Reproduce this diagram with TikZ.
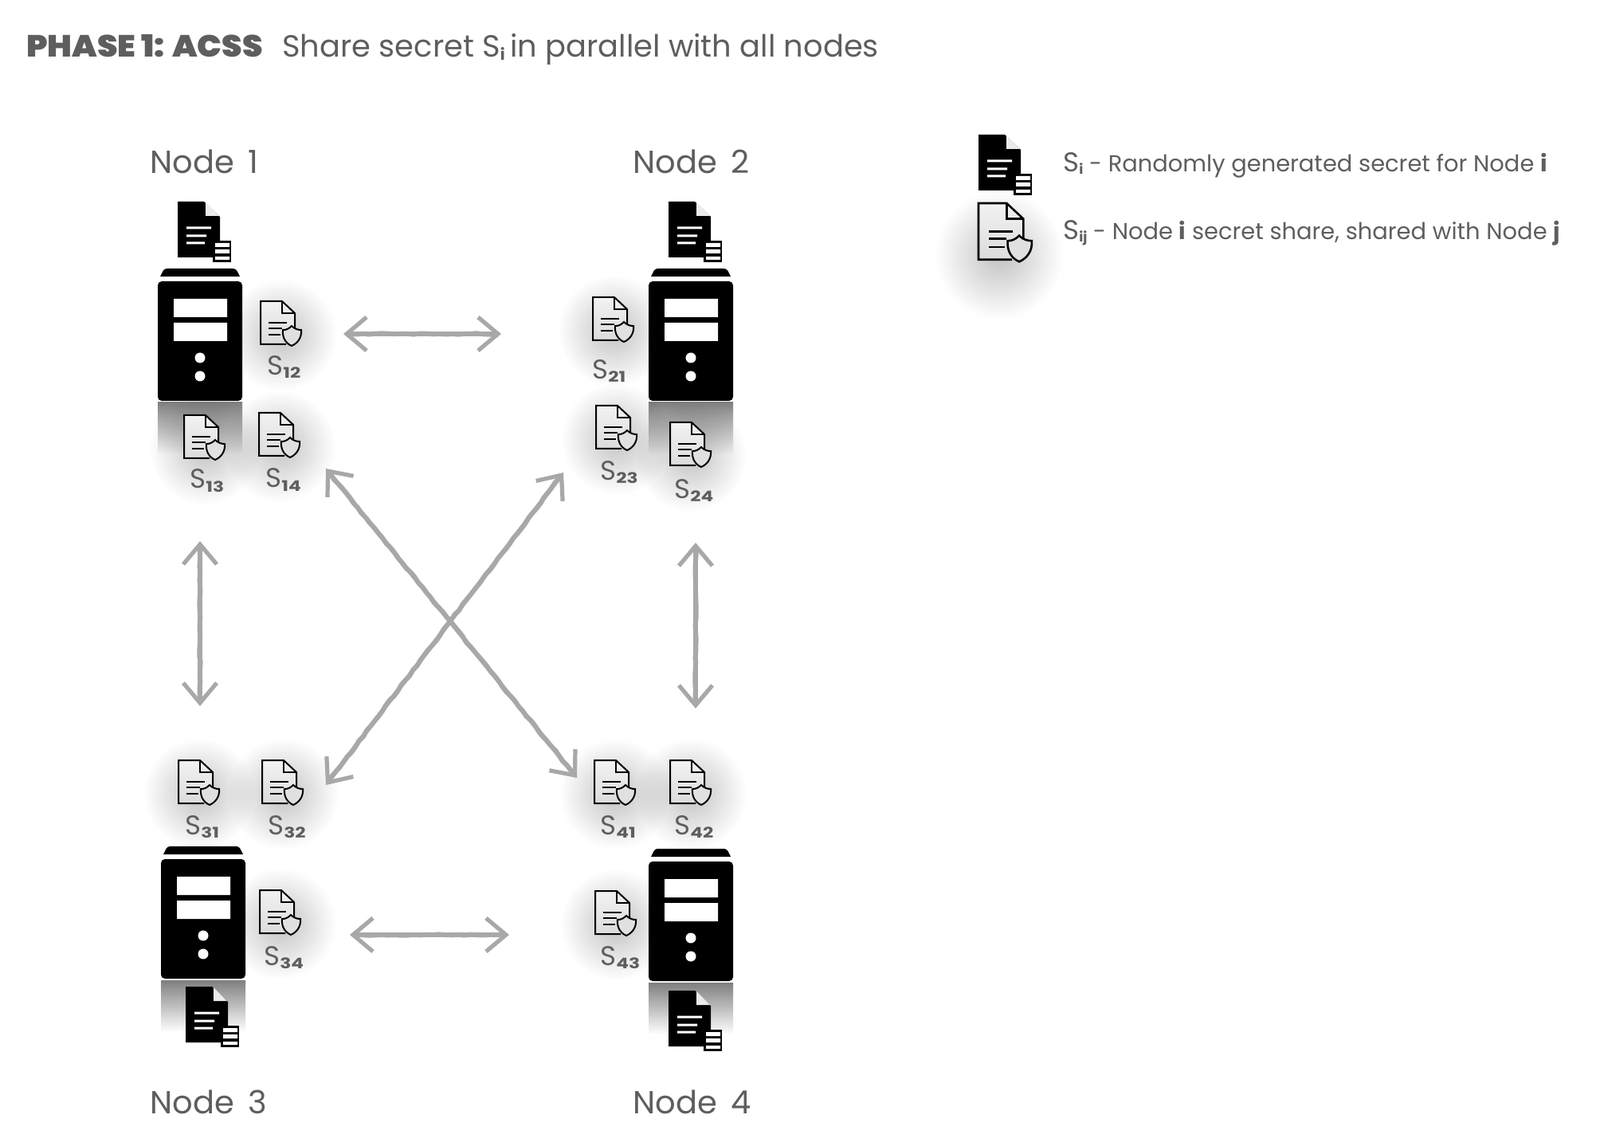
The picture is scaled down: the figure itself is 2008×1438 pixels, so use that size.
\documentclass[tikz,border=0pt]{standalone}
\usepackage{fontspec}
\setmainfont{Poppins}
\newfontfamily\heavy{Poppins Black}
\usetikzlibrary{arrows.meta,fadings,decorations.pathmorphing}
\definecolor{txt}{HTML}{5E5E5E}
\definecolor{arrowgray}{HTML}{A8A8A8}
\tikzfading[name=halofade,inner color=transparent!76,outer color=transparent!100]
\newcommand{\sublab}[1]{\raisebox{-2pt}{\scalebox{1.26}[1]{\bfseries\fontsize{9.2}{10}\selectfont #1}}}
\newcommand{\lsub}[1]{\raisebox{-1.5pt}{\bfseries\fontsize{8.6}{9}\selectfont #1}}
\tikzset{
  plain text/.style={anchor=base west,inner sep=0pt,text=txt,font=\fontsize{14.45}{16}\selectfont},
  node title/.style={plain text,font=\fontsize{20}{22}\selectfont},
  head text/.style={plain text,font=\fontsize{19.2}{22}\selectfont},
  share text/.style={plain text,font=\fontsize{17}{20}\selectfont},
  halo/.style={black,path fading=halofade},
  shareline/.style={line width=1pt,black},
  sharedoc/.pic={
    \fill[top color=white!95!black,bottom color=white!86!black] (0,0) -- (27,0) -- (43,15) -- (43,46) -- (32,54) -- (0,54) -- cycle;
    \draw[shareline,miter limit=2] (32,54) -- (0,54) -- (0,0) -- (27,0) -- (43,15) -- (43,34);
    \draw[shareline] (27,0) -- (27,15) -- (43,15);
    \draw[shareline] (10,27) -- (33,27) (10,34) -- (27,34) (10,42) -- (25,42);
    \fill[white!88!black] (39,31) .. controls (43,35) and (47,36) .. (51,36) .. controls (52,46) and (46,53) .. (39,56) .. controls (32,53) and (27,46) .. (28,36) .. controls (32,36) and (35,35) .. (39,31) -- cycle;
    \draw[shareline] (39,31) .. controls (43,35) and (47,36) .. (51,36) .. controls (52,46) and (46,53) .. (39,56) .. controls (32,53) and (27,46) .. (28,36) .. controls (32,36) and (35,35) .. (39,31) -- cycle;
  },
  blackdoc/.pic={
    \fill[black] (0,0) -- (33,0) -- (53,19) -- (53,70) -- (0,70) -- cycle;
    \fill[white!92!black] (35,1) -- (52,18) -- (35,18) -- cycle;
    \fill[white] (11,31.5) rectangle (42,34.5) (11,41.5) rectangle (36,44.5) (11,50.5) rectangle (34,53.5);
    \fill[black] (44,49) rectangle (67,76);
    \fill[white] (47,52) rectangle (65,57) (47,60) rectangle (65,65) (47,69) rectangle (65,73);
  },
  serverbody/.pic={
    \fill[black,rounded corners=2.5pt] (0,0) rectangle (106,150);
    \fill[black] (3,-6) -- (5,-10) .. controls (7,-15) and (9,-16) .. (13,-16) -- (93,-16) .. controls (97,-16) and (99,-15) .. (101,-10) -- (103,-6) -- cycle;
    \fill[white] (20,22) rectangle (87,45) (20,52) rectangle (87,75);
    \fill[white] (53,96) circle [radius=6.5] (53,119) circle [radius=6.5];
  },
  arrowtipline/.style={arrowgray,line width=2.6pt,{Straight Barb[length=12.5pt,width=21pt]}-{Straight Barb[length=12.5pt,width=21pt]}},
  arrowsketch/.style={arrowgray,line width=3pt,decorate,decoration={random steps,segment length=4pt,amplitude=.4pt},shorten >=2pt,shorten <=2pt},
}
\newcommand{\halofor}[3][1]{\fill[halo] (#2+26,#3+42) circle [radius=#1*70];}
\begin{document}
\begin{tikzpicture}[x=.5pt,y=-.5pt]
\useasboundingbox (0,0) rectangle (2008,1438);
\fill[white] (0,0) rectangle (2008,1438);

% reflections below the servers
\shade[top color=white!50!black,bottom color=white] (198,505) rectangle (304,570);
\shade[top color=white!50!black,bottom color=white] (814,505) rectangle (920,570);
\shade[top color=white!50!black,bottom color=white] (202,1230) rectangle (308,1295);
\shade[top color=white!50!black,bottom color=white] (814,1233) rectangle (920,1298);

% soft shadows behind the shares
\halofor{327}{378}\halofor{744}{373}\halofor{748}{509}\halofor{841}{530}
\halofor{231}{521}\halofor{325}{518}\halofor{224}{954}\halofor{329}{954}
\halofor{326}{1117}\halofor{746}{954}\halofor{841}{954}\halofor{747}{1118}
\halofor[1.15]{1228}{278}

% title
\node[head text] (titlea) at (33,72) {\scalebox{1.065}[1]{\heavy PHASE 1: ACSS}};
\node[head text] (titleb) at (354,72) {Share secret S\raisebox{-2pt}{\bfseries\fontsize{10}{11}\selectfont i}\,in parallel with all nodes};

% node titles
\node[node title] (n1) at (188,218) {Node\hspace{9pt}1};
\node[node title] (n2) at (794,218) {Node\hspace{9pt}2};
\node[node title] (n3) at (188,1397) {Node\hspace{9pt}3};
\node[node title] (n4) at (794,1397) {Node\hspace{9pt}4};

% servers
\pic (srv1) at (198,353) {serverbody};
\pic (srv2) at (814,353) {serverbody};
\pic (srv3) at (202,1078) {serverbody};
\pic (srv4) at (814,1081) {serverbody};

% secrets
\pic (sec1) at (223,253) {blackdoc};
\pic (sec2) at (839,253) {blackdoc};
\pic (sec3) at (233,1238) {blackdoc};
\pic (sec4) at (839,1243) {blackdoc};

% shares
\pic (d12) at (327,378) {sharedoc};
\pic (d13) at (231,521) {sharedoc};
\pic (d14) at (325,518) {sharedoc};
\pic (d21) at (744,373) {sharedoc};
\pic (d23) at (748,509) {sharedoc};
\pic (d24) at (841,530) {sharedoc};
\pic (d31) at (224,954) {sharedoc};
\pic (d32) at (329,954) {sharedoc};
\pic (d34) at (326,1117) {sharedoc};
\pic (d41) at (746,954) {sharedoc};
\pic (d42) at (841,954) {sharedoc};
\pic (d43) at (747,1118) {sharedoc};

\node[share text] (s12) at (335,471) {S\sublab{12}};
\node[share text] (s13) at (238,613) {S\sublab{13}};
\node[share text] (s14) at (333,612) {S\sublab{14}};
\node[share text] (s21) at (743,476) {S\sublab{21}};
\node[share text] (s23) at (753,603) {S\sublab{23}};
\node[share text] (s24) at (846,625) {S\sublab{24}};
\node[share text] (s31) at (232,1047) {S\sublab{31}};
\node[share text] (s32) at (336,1047) {S\sublab{32}};
\node[share text] (s34) at (331,1211) {S\sublab{34}};
\node[share text] (s41) at (753,1047) {S\sublab{41}};
\node[share text] (s42) at (846,1047) {S\sublab{42}};
\node[share text] (s43) at (753,1211) {S\sublab{43}};

% arrows
\coordinate (a1l) at (431,419);
\coordinate (a1r) at (629,419);
\coordinate (a2l) at (439,1173);
\coordinate (a2r) at (639,1173);
\coordinate (a3t) at (251,679);
\coordinate (a3b) at (251,886);
\coordinate (a4t) at (873,681);
\coordinate (a4b) at (873,889);
\coordinate (a5a) at (409,588);
\coordinate (a5b) at (724,976);
\coordinate (a6a) at (707,593);
\coordinate (a6b) at (409,985);
\foreach \p/\q in {a1l/a1r,a2l/a2r,a3t/a3b,a4t/a4b,a5a/a5b,a6a/a6b}{
  \draw[arrowtipline] (\p) -- (\q);
  \draw[arrowsketch] (\p) -- (\q);
}

% legend
\pic (legsec) at (1228,169) {blackdoc};
\pic[scale=1.31,shareline/.append style={line width=1.3pt}] (legshr) at (1228,255) {sharedoc};
\node[plain text] (leg1) at (1334,216) {{\fontsize{17}{20}\selectfont S}\lsub{i} - Randomly generated secret for Node {\bfseries i}};
\node[plain text] (leg2) at (1334,301) {{\fontsize{17}{20}\selectfont S}\lsub{ij} - Node {\bfseries i} secret share, shared with Node {\bfseries j}};
\end{tikzpicture}
\end{document}
